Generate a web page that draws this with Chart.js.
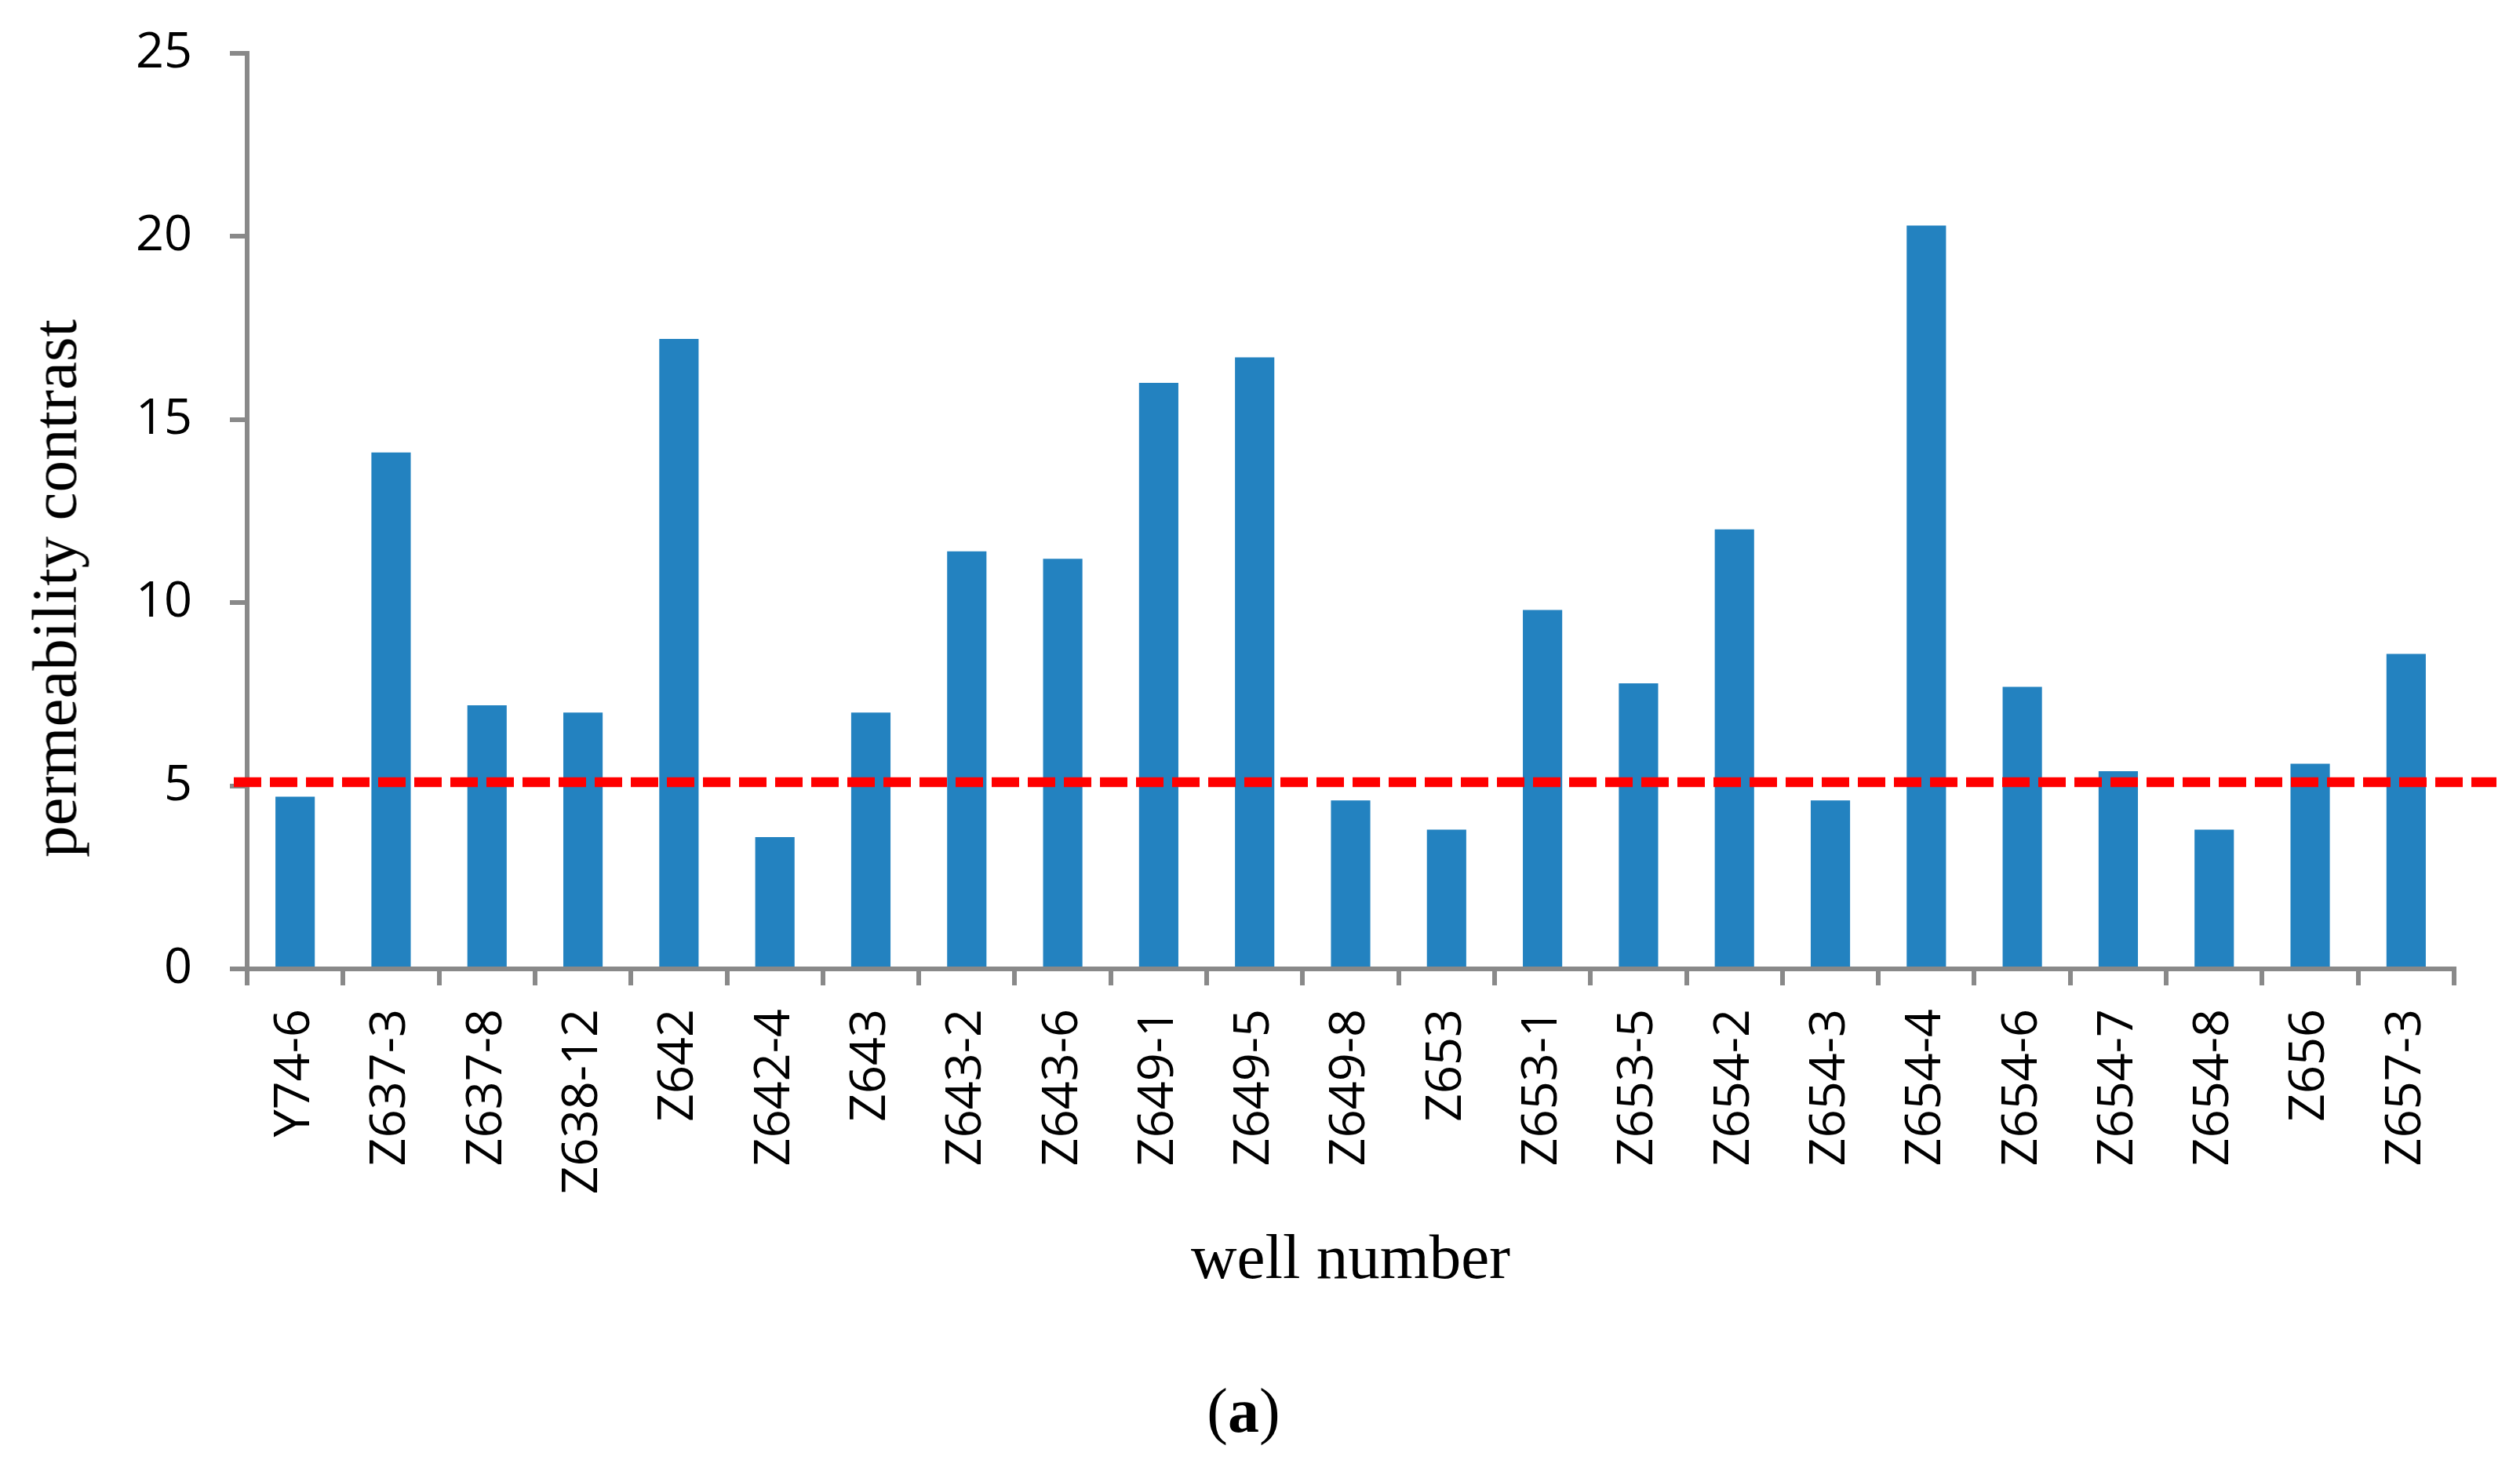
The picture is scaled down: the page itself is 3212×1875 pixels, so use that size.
<!DOCTYPE html>
<html>
<head>
<meta charset="utf-8">
<script src="https://cdn.jsdelivr.net/npm/chart.js@4.4.1/dist/chart.umd.min.js"></script>
<style>
    body { margin: 0; background: #fff; }
    #wrap { position: relative; width: 3212px; height: 1875px; }
    .txt {
        position: absolute; white-space: nowrap; line-height: 1;
        font-family: 'Liberation Serif', serif; font-size: 81px; color: #000;
    }
    #caption { left: 1585px; top: 1798px; transform: translate(-50%, -50%); font-size: 80px; }
    #ytitle { left: 70px; top: 750px; transform: translate(-50%, -50%) rotate(-90deg); }
</style>
</head>
<body>
<div id="wrap">
    <canvas id="chart" width="3212" height="1875"></canvas>
    <div id="ytitle" class="txt">permeability contrast</div>
    <div id="caption" class="txt">(<b>a</b>)</div>
</div>
<script>
// Data
const wells = ['Y74-6', 'Z637-3', 'Z637-8', 'Z638-12', 'Z642', 'Z642-4', 'Z643', 'Z643-2', 'Z643-6',
    'Z649-1', 'Z649-5', 'Z649-8', 'Z653', 'Z653-1', 'Z653-5', 'Z654-2', 'Z654-3', 'Z654-4',
    'Z654-6', 'Z654-7', 'Z654-8', 'Z656', 'Z657-3'];
const contrast = [4.7, 14.1, 7.2, 7.0, 17.2, 3.6, 7.0, 11.4, 11.2, 16.0, 16.7, 4.6, 3.8, 9.8, 7.8,
    12.0, 4.6, 20.3, 7.7, 5.4, 3.8, 5.6, 8.6];
const threshold = 5.1;
const yTicks = [0, 5, 10, 15, 20, 25];

const axisGray = '#898989';

// Dashed red threshold line, running a little past both ends of the plot
const thresholdLine = {
    id: 'thresholdLine',
    afterDatasetsDraw(chart) {
        const { ctx, chartArea, scales } = chart;
        const y = scales.y.getPixelForValue(threshold);
        ctx.save();
        ctx.strokeStyle = '#ff0000';
        ctx.lineWidth = 12.5;
        ctx.setLineDash([35, 11]);
        ctx.beginPath();
        ctx.moveTo(chartArea.left - 17, y);
        ctx.lineTo(chartArea.right + 54, y);
        ctx.stroke();
        ctx.restore();
    }
};

new Chart(document.getElementById('chart'), {
    type: 'bar',
    data: {
        labels: wells,
        datasets: [{
            label: 'permeability contrast',
            data: contrast,
            backgroundColor: '#2382c0',
            barPercentage: 0.41,
            categoryPercentage: 1
        }]
    },
    options: {
        responsive: false,
        devicePixelRatio: 1,
        animation: false,
        layout: { padding: { top: 68, right: 84, bottom: 219, left: 0 } },
        plugins: {
            legend: { display: false },
            tooltip: { enabled: false }
        },
        scales: {
            x: {
                grid: {
                    offset: true,
                    drawOnChartArea: false,
                    color: axisGray,
                    lineWidth: 6,
                    tickLength: 21
                },
                border: { color: axisGray, width: 6 },
                ticks: {
                    autoSkip: false,
                    maxRotation: 90,
                    minRotation: 90,
                    padding: 30,
                    color: '#000',
                    font: { family: 'Open Sans', size: 63 }
                },
                title: {
                    display: true,
                    text: 'well number',
                    color: '#000',
                    padding: 0,
                    font: { family: 'Liberation Serif', size: 81 }
                },
                afterFit: s => {
                    s.height = 421;
                    s.paddingLeft = 0;
                    s.paddingRight = 0;
                }
            },
            y: {
                min: 0,
                max: 25,
                afterBuildTicks: s => { s.ticks = yTicks.map(v => ({ value: v })); },
                grid: {
                    drawOnChartArea: false,
                    color: axisGray,
                    lineWidth: 6,
                    tickLength: 22
                },
                border: { color: axisGray, width: 6 },
                ticks: {
                    padding: 48,
                    color: '#000',
                    font: { family: 'Open Sans', size: 63 }
                },
                // tick padding would otherwise push the plot top down
                afterFit: s => {
                    s.width = 315;
                    s.paddingTop = 0;
                    s.paddingBottom = 0;
                }
            }
        }
    },
    plugins: [thresholdLine]
});
</script>
</body>
</html>
